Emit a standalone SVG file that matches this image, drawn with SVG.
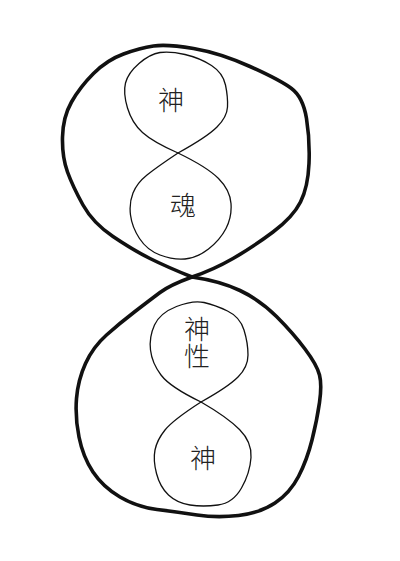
<svg xmlns="http://www.w3.org/2000/svg" width="400" height="561" viewBox="0 0 400 561">
<style>
.outer{fill:none;stroke:#111;stroke-width:3.6;stroke-linejoin:round;stroke-linecap:round}
.inner{fill:none;stroke:#111;stroke-width:1.3;stroke-linejoin:round}
.lbl{font-family:"Noto Sans CJK SC","Noto Sans CJK JP",sans-serif;font-size:26px;font-weight:300;fill:#222;text-anchor:middle}
.vert{writing-mode:vertical-rl;text-anchor:start;letter-spacing:1px}
</style>
<rect width="400" height="561" fill="#fff"/>
<g id="connectors"></g>
<g id="outer-top">
<path class="outer" d="M192,277 Q213,270 233,258.5 Q253,247 273,232 Q293,217 300.5,202 Q308,187 309,163.5 Q310,140 306.5,118.5 Q303,97 291.5,88.5 Q280,80 250,66.5 Q220,53 193.5,48.5 Q167,44 153.5,46 Q140,48 123.5,54 Q107,60 93.5,73.5 Q80,87 71.5,102 Q63,117 62.5,137 Q62,157 67.5,172 Q73,187 83,205 Q93,223 113,236.5 Q133,250 150,258.5 Q167,267 192,277 Z"/>
</g>
<g id="outer-bottom">
<path class="outer" d="M192,277 Q220,281 240,290.5 Q260,300 276.5,316.5 Q293,333 305,349 Q317,365 319.5,375 Q322,385 319.5,402.5 Q317,420 312,440 Q307,460 298.5,476.5 Q290,493 275,503 Q260,513 238.5,515.5 Q217,518 197,515 Q177,512 157,509.5 Q137,507 120,497 Q103,487 93,472 Q83,457 79,437 Q75,417 76.5,398.5 Q78,380 85.5,363.5 Q93,347 106.5,335 Q120,323 135,311.5 Q150,300 160,292.5 Q170,285 192,277 Z"/>
</g>
<g id="node-shen-top">
<path class="inner" d="M178,153 Q207,137 217,127 Q227,117 227.5,107 Q228,97 225.5,85 Q223,73 211.5,65.5 Q200,58 185,54.5 Q170,51 160,52.5 Q150,54 139,63.5 Q128,73 125.5,83 Q123,93 127.5,108 Q132,123 142.5,132.5 Q153,142 178,153 Z"/>
<text class="lbl" x="171" y="110">神</text>
</g>
<g id="node-hun">
<path class="inner" d="M178,153 Q207,167 218.5,178.5 Q230,190 231,203.5 Q232,217 226,228.5 Q220,240 208.5,249 Q197,258 185,259 Q173,260 160,255 Q147,250 139.5,238.5 Q132,227 130.5,215 Q129,203 133,193 Q137,183 147,175 Q157,167 178,153 Z"/>
<text class="lbl" x="183" y="215">魂</text>
</g>
<g id="node-shenxing">
<path class="inner" d="M201,402 Q228,387 238,377 Q248,367 248,355 Q248,343 244,330 Q240,317 227.5,311 Q215,305 204,302.5 Q193,300 176.5,306.5 Q160,313 154.5,325 Q149,337 150.5,350 Q152,363 161,375 Q170,387 201,402 Z"/>
<text class="lbl vert" x="197" y="316">神性</text>
</g>
<g id="node-shen-bottom">
<path class="inner" d="M201,402 Q227,417 239.5,429.5 Q252,442 251,457.5 Q250,473 241.5,488 Q233,503 218,505 Q203,507 190,505 Q177,503 168.5,495 Q160,487 156.5,473.5 Q153,460 155,450 Q157,440 165,430 Q173,420 201,402 Z"/>
<text class="lbl" x="203" y="468">神</text>
</g>
</svg>
